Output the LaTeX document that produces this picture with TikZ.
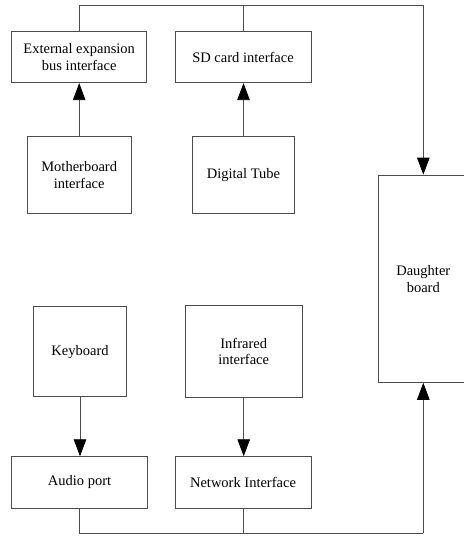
\documentclass[tikz,border=0pt]{standalone}
\usepackage{fontspec}
\setmainfont{Liberation Serif}
\usetikzlibrary{arrows.meta}
\begin{document}
\begin{tikzpicture}[x=1pt,y=-1pt,
  box/.style={draw=black!70,line width=0.8pt,align=center,inner sep=2pt,
    font=\fontsize{14.5}{16.7}\selectfont},
  conn/.style={draw=black!70,line width=0.8pt},
  arr/.style={conn,-{Triangle[length=17pt,width=12.5pt]},arrows={[color=black]}}]
\useasboundingbox (0,0) rectangle (463,537);
\node[box,minimum width=135pt,minimum height=51pt] (ext) at (79.2,57.2) {External expansion\\bus interface};
\node[box,minimum width=136pt,minimum height=51pt] (sd) at (243,57.2) {SD card interface};
\node[box,minimum width=103.4pt,minimum height=76.6pt] (mb) at (79.2,175) {Motherboard\\interface};
\node[box,minimum width=101.6pt,minimum height=76.6pt] (dt) at (243.5,175) {Digital Tube};
\node[box,minimum width=93.4pt,minimum height=90pt] (kb) at (80,351.7) {Keyboard};
\node[box,minimum width=117.3pt,minimum height=92.7pt] (ir) at (243.7,351.4) {Infrared\\interface};
\node[box,minimum width=135.6pt,minimum height=51.6pt] (ap) at (79.5,482.5) {Audio port};
\node[box,minimum width=136pt,minimum height=51.6pt] (ni) at (243,482.5) {Network Interface};
\node[box,minimum width=90.6pt,minimum height=207.3pt] (db) at (423.3,278.7) {Daughter\\board};
\coordinate (topR) at (423.3,5);
\coordinate (botR) at (423.3,533.3);
\draw[conn] (ext.north) |- (topR);
\draw[conn] (sd.north) -- (sd.north |- topR);
\draw[arr] (topR) -- (db.north);
\draw[arr] (mb.north) -- (ext.south -| mb.north);
\draw[arr] (dt.north) -- (sd.south -| dt.north);
\draw[arr] (kb.south) -- (ap.north -| kb.south);
\draw[arr] (ir.south) -- (ni.north -| ir.south);
\draw[conn] (ap.south) |- (botR);
\draw[conn] (ni.south) -- (ni.south |- botR);
\draw[arr] (botR) -- (db.south);
\end{tikzpicture}
\end{document}
